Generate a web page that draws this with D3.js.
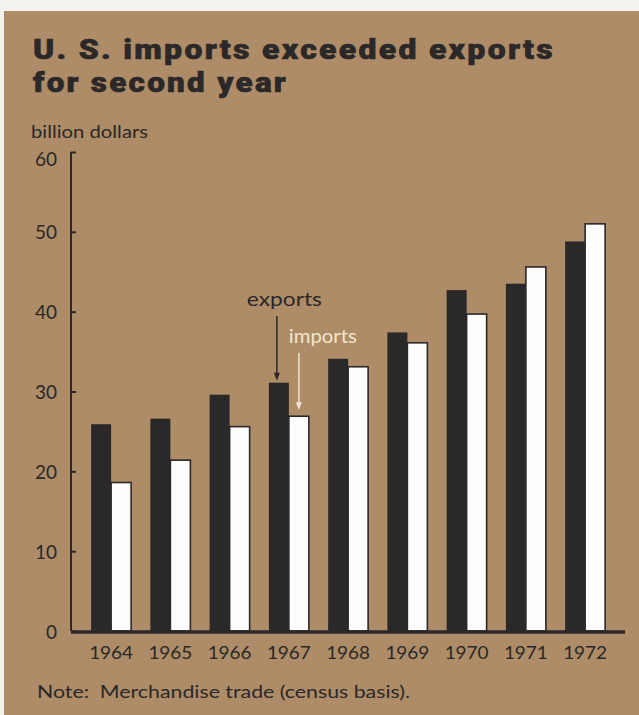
<!DOCTYPE html>
<html>
<head>
<meta charset="utf-8">
<script src="https://cdn.jsdelivr.net/npm/d3@7"></script>
<style>
  html, body { margin: 0; padding: 0; background: #f5f3ef; }
  svg { display: block; }
</style>
</head>
<body>
<div id="chart"></div>
<script>
// values, billion dollars
var years = ['1964', '1965', '1966', '1967', '1968', '1969', '1970', '1971', '1972'];
var exportsData = [25.9, 26.6, 29.6, 31.1, 34.1, 37.4, 42.7, 43.5, 48.8];
var importsData = [18.6, 21.4, 25.6, 26.9, 33.1, 36.1, 39.7, 45.6, 51.0];
var series = ['exports', 'imports'];
var yTicks = [0, 10, 20, 30, 40, 50, 60];

var W = 639, H = 715;
var bg = '#ad8c67';
var dark = '#2a2828';
var labelFont = 'Lato, "Noto Sans", sans-serif';

var svg = d3.select('#chart')
    .append('svg')
    .attr('width', W)
    .attr('height', H);

// tan panel
svg.append('rect')
    .attr('x', 4)
    .attr('y', 11)
    .attr('width', W - 4)
    .attr('height', H - 11)
    .attr('fill', bg);

// title, heavy face stretched a little wider
var title = svg.append('text')
    .attr('font-family', 'Roboto, "DejaVu Sans", sans-serif')
    .attr('font-weight', 900)
    .attr('font-size', '28px')
    .attr('letter-spacing', '2px')
    .attr('fill', dark)
    .attr('stroke', dark)
    .attr('stroke-width', 0.6);
title.append('tspan').attr('x', 33).attr('y', 59)
    .attr('textLength', 522).attr('lengthAdjust', 'spacingAndGlyphs')
    .text('U. S. imports exceeded exports');
title.append('tspan').attr('x', 33).attr('y', 92)
    .attr('textLength', 255).attr('lengthAdjust', 'spacingAndGlyphs')
    .text('for second year');

svg.append('text')
    .attr('x', 31)
    .attr('y', 138)
    .attr('font-family', labelFont)
    .attr('font-size', '17px')
    .attr('fill', dark)
    .attr('textLength', 117)
    .attr('lengthAdjust', 'spacingAndGlyphs')
    .text('billion dollars');

// scales
var x0 = d3.scaleBand().domain(years).range([81.5, 614.75]).paddingInner(0.325).paddingOuter(0.1625);
var x1 = d3.scaleBand().domain(series).range([0, x0.bandwidth()]);
var y = d3.scaleLinear().domain([0, 60]).range([631, 152]);

var rows = years.map(function(d, i) {
    return { year: d, exports: exportsData[i], imports: importsData[i] };
});

// y axis
var yAxis = svg.append('g')
    .attr('transform', 'translate(71,0)')
    .call(d3.axisRight(y).tickValues(yTicks).tickSize(5).tickFormat(''));
yAxis.select('.domain').attr('d', 'M0,' + y(60) + 'V' + y(0)).attr('stroke', dark).attr('stroke-width', 2);
yAxis.selectAll('.tick line').attr('stroke', dark).attr('stroke-width', 2);

svg.append('g')
    .selectAll('text')
    .data(yTicks)
    .enter()
    .append('text')
    .attr('x', 57)
    .attr('y', function(d) { return y(d) + (d === 60 ? 7 : 1); })
    .attr('dy', '0.35em')
    .attr('text-anchor', 'end')
    .attr('font-family', labelFont)
    .attr('font-size', '19px')
    .attr('fill', dark)
    .text(function(d) { return d; });

// bars
var groups = svg.append('g')
    .selectAll('g')
    .data(rows)
    .enter()
    .append('g')
    .attr('transform', function(d) { return 'translate(' + x0(d.year) + ',0)'; });

groups.selectAll('rect')
    .data(function(d) {
        return series.map(function(s) { return { key: s, value: d[s] }; });
    })
    .enter()
    .append('rect')
    .attr('x', function(d) { return x1(d.key); })
    .attr('y', function(d) { return y(d.value); })
    .attr('width', x1.bandwidth())
    .attr('height', function(d) { return y(0) - y(d.value); })
    .attr('fill', function(d) { return d.key === 'exports' ? dark : '#fdfdfb'; })
    .attr('stroke', dark)
    .attr('stroke-width', function(d) { return d.key === 'exports' ? 0 : 1.6; });

// baseline
svg.append('line')
    .attr('x1', 71)
    .attr('x2', 625)
    .attr('y1', y(0) + 1)
    .attr('y2', y(0) + 1)
    .attr('stroke', dark)
    .attr('stroke-width', 3.5);

// year labels
svg.append('g')
    .selectAll('text')
    .data(years)
    .enter()
    .append('text')
    .attr('x', function(d) { return x0(d) + x0.bandwidth() / 2 - 22; })
    .attr('y', 659)
    .attr('font-family', labelFont)
    .attr('font-size', '18px')
    .attr('fill', dark)
    .attr('textLength', 44)
    .attr('lengthAdjust', 'spacingAndGlyphs')
    .text(function(d) { return d; });

// annotation arrows on 1967
function arrow(key, color, label, labelY, top, len, dx) {
    var ax = x0('1967') + x1(key) + x1.bandwidth() / 2 - (key === 'exports' ? 2 : 0);
    var tip = y(top) - (key === 'exports' ? 2 : 6);
    svg.append('line')
        .attr('x1', ax).attr('x2', ax)
        .attr('y1', labelY + 10).attr('y2', tip - 6)
        .attr('stroke', color)
        .attr('stroke-width', 1.5);
    svg.append('path')
        .attr('d', 'M' + (ax - 3) + ',' + (tip - 8) + 'L' + (ax + 3) + ',' + (tip - 8) + 'L' + ax + ',' + tip + 'Z')
        .attr('fill', color);
    svg.append('text')
        .attr('x', ax + dx)
        .attr('y', labelY)
        .attr('font-family', labelFont)
        .attr('font-size', '19px')
        .attr('fill', color)
        .attr('textLength', len)
        .attr('lengthAdjust', 'spacingAndGlyphs')
        .text(label);
}
arrow('exports', dark, 'exports', 306, exportsData[3], 75, -30);
arrow('imports', '#f1e6d3', 'imports', 343, importsData[3], 68, -10);

// note
svg.append('text')
    .attr('x', 37)
    .attr('y', 698)
    .attr('font-family', labelFont)
    .attr('font-size', '17px')
    .attr('fill', dark)
    .attr('xml:space', 'preserve')
    .attr('textLength', 373)
    .attr('lengthAdjust', 'spacingAndGlyphs')
    .text('Note:  Merchandise trade (census basis).');
</script>
</body>
</html>
